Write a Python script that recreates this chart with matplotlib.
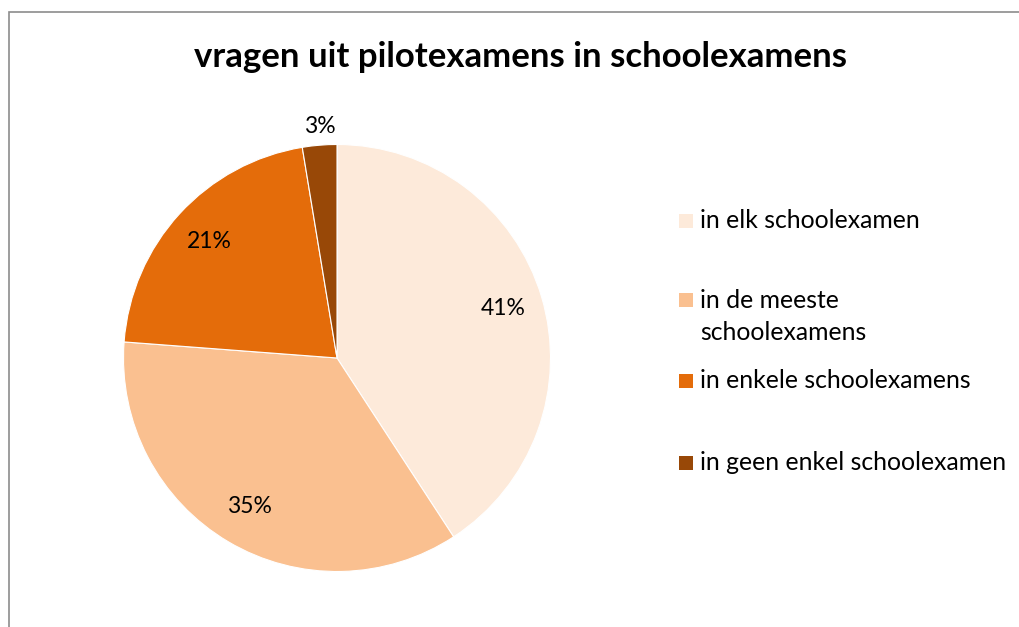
import matplotlib.pyplot as plt
from matplotlib.patches import Rectangle

# data
categories = ['in elk schoolexamen', 'in de meeste\nschoolexamens',
              'in enkele schoolexamens', 'in geen enkel schoolexamen']
shares = [40.8, 35.4, 21.2, 2.6]
colors = ['#FDEADA', '#FAC090', '#E46C0A', '#984807']
title = 'vragen uit pilotexamens in schoolexamens'

W, H = 1019, 627
cx, cy, R = 337, 358, 213.5
pad = 1.1

fig = plt.figure(figsize=(W / 100, H / 100), dpi=100)
fig.patch.set_facecolor('white')

# chart border (left and top visible, rest cut off)
fig.patches.append(Rectangle((9 / W, -0.1), 1.2, (H - 12) / H + 0.1,
                             transform=fig.transFigure, fill=False,
                             edgecolor='#8c8c8c', linewidth=1.2))

ax = fig.add_axes([(cx - pad * R) / W, (H - cy - pad * R) / H,
                   2 * pad * R / W, 2 * pad * R / H])
wedges, texts, autotexts = ax.pie(shares, colors=colors, startangle=90,
                                  counterclock=False, autopct='%.0f%%',
                                  pctdistance=0.81,
                                  wedgeprops=dict(edgecolor='white', linewidth=0.8),
                                  textprops=dict(fontsize=16.5, family='Lato'))
ax.set_xlim(-pad, pad)
ax.set_ylim(-pad, pad)
# small slice label sits outside
autotexts[-1].set_position((-0.08, 1.085))

fig.text(520 / W, 1 - 57 / H, title, ha='center', va='center',
         fontsize=25, fontweight='bold', family='Lato')

# legend, placed by hand like the original
legend_y = [221, 300, 381, 463]
for lab, col, y in zip(categories, colors, legend_y):
    fig.patches.append(Rectangle((679 / W, 1 - (y + 7) / H), 14 / W, 14 / H,
                                 transform=fig.transFigure, facecolor=col,
                                 edgecolor='none'))
    for i, line in enumerate(lab.split('\n')):
        fig.text(700 / W, 1 - (y + i * 33) / H, line, ha='left', va='center',
                 fontsize=17.8, family='Lato')

fig.savefig('out.png', dpi=100)
